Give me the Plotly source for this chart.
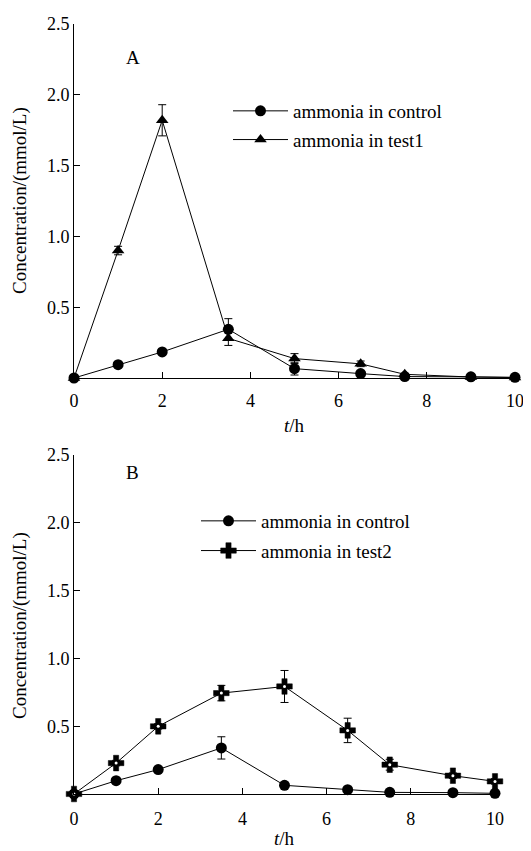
import plotly.graph_objects as go

# ---- data ----
t_hours = [0, 1, 2, 3.5, 5, 6.5, 7.5, 9, 10]

a_control = [0.0, 0.094, 0.184, 0.344, 0.066, 0.031, 0.010, 0.008, 0.005]
a_control_err = [0.0, 0.0, 0.0, 0.075, 0.045, 0.0, 0.0, 0.0, 0.0]
a_test1 = [0.0, 0.90, 1.82, 0.28, 0.137, 0.10, 0.026, 0.007, 0.003]
a_test1_err = [0.0, 0.03, 0.11, 0.05, 0.035, 0.02, 0.0, 0.0, 0.0]

b_control = [0.0, 0.098, 0.18, 0.34, 0.064, 0.032, 0.012, 0.010, 0.005]
b_control_err = [0.0, 0.0, 0.0, 0.082, 0.0, 0.0, 0.0, 0.0, 0.0]
b_test2 = [0.0, 0.228, 0.499, 0.744, 0.793, 0.469, 0.216, 0.135, 0.093]
b_test2_err = [0.0, 0.02, 0.02, 0.057, 0.118, 0.09, 0.04, 0.02, 0.02]

x_ticks = [0, 2, 4, 6, 8, 10]
y_ticks = [0.5, 1.0, 1.5, 2.0, 2.5]
y_ticklabels = ["0.5", "1.0", "1.5", "2.0", "2.5"]

FONT = "'Liberation Serif', 'Times New Roman', Times, serif"
OFF = 8  # default page body margin
W, H = 531 - OFF, 851 - OFF


def px_x(p):
    return (p - OFF) / W


def px_y(p):
    return 1 - (p - OFF) / H


fig = go.Figure()


def err(vals):
    return dict(type="data", array=vals, visible=True, color="black",
                thickness=1, width=4)


line = dict(color="black", width=1)

fig.add_trace(go.Scatter(x=t_hours, y=a_control, error_y=err(a_control_err),
                         mode="lines+markers", name="ammonia in control",
                         line=line, marker=dict(symbol="circle", size=11, color="black"),
                         cliponaxis=False, xaxis="x", yaxis="y", legend="legend",
                         legendgroup="a1"))
fig.add_trace(go.Scatter(x=t_hours, y=a_test1, error_y=err(a_test1_err),
                         mode="lines+markers", name="ammonia in test1",
                         line=line, marker=dict(symbol="triangle-up", size=11, color="black"),
                         cliponaxis=False, xaxis="x", yaxis="y", legend="legend",
                         legendgroup="a2"))

fig.add_trace(go.Scatter(x=t_hours, y=b_control, error_y=err(b_control_err),
                         mode="lines+markers", name="ammonia in control",
                         line=line, marker=dict(symbol="circle", size=11, color="black"),
                         cliponaxis=False, xaxis="x2", yaxis="y2", legend="legend2",
                         legendgroup="b1"))
fig.add_trace(go.Scatter(x=t_hours, y=b_test2, error_y=err(b_test2_err),
                         mode="lines+markers", name="ammonia in test2",
                         line=line, marker=dict(symbol="cross", size=13, color="black",
                                                line=dict(color="black", width=0.5)),
                         cliponaxis=False, xaxis="x2", yaxis="y2", legend="legend2",
                         legendgroup="b2"))
# white centre dot of the test2 markers
fig.add_trace(go.Scatter(x=t_hours, y=b_test2, mode="markers", showlegend=False,
                         marker=dict(symbol="circle", size=3, color="white"),
                         cliponaxis=False, xaxis="x2", yaxis="y2", hoverinfo="skip"))

xa_dom = [px_x(74), px_x(515)]
xb_dom = [px_x(74), px_x(495)]
ya_dom = [px_y(378), px_y(24)]
yb_dom = [px_y(794), px_y(455)]

tickfont = dict(family=FONT, size=18, color="black")


def xaxis(dom, anchor, standoff):
    return dict(domain=dom, anchor=anchor, range=[0, 10], tickvals=x_ticks,
                ticks="inside", ticklen=6, tickwidth=1, tickcolor="black",
                showline=True, linecolor="black", linewidth=1, showgrid=False,
                zeroline=False, tickfont=tickfont, ticklabelstandoff=standoff,
                automargin=False)


def yaxis(dom, anchor):
    return dict(domain=dom, anchor=anchor, range=[0, 2.5], tickvals=y_ticks,
                ticktext=y_ticklabels, ticks="inside", ticklen=6, tickwidth=1,
                tickcolor="black", showline=True, linecolor="black", linewidth=1,
                showgrid=False, zeroline=False, tickfont=tickfont, automargin=False)


legfont = dict(family=FONT, size=19, color="black")
annfont = dict(family=FONT, size=19, color="black")


def ann(text, x, y, xref="paper", yref="paper", angle=0):
    return dict(text=text, x=x, y=y, xref=xref, yref=yref, showarrow=False,
                xanchor="center", yanchor="middle", textangle=angle, font=annfont)


fig.update_layout(
    width=W, height=H,
    margin=dict(l=0, r=0, t=0, b=0, autoexpand=False),
    paper_bgcolor="white", plot_bgcolor="white",
    showlegend=True,
    xaxis=xaxis(xa_dom, "y", 6), yaxis=yaxis(ya_dom, "x"),
    xaxis2=xaxis(xb_dom, "y2", 8), yaxis2=yaxis(yb_dom, "x2"),
    legend=dict(x=px_x(228), y=px_y(92), xanchor="left", yanchor="top",
                font=legfont, bgcolor="rgba(0,0,0,0)", itemwidth=55,
                tracegroupgap=1, traceorder="grouped", itemclick=False),
    legend2=dict(x=px_x(196), y=px_y(502), xanchor="left", yanchor="top",
                 font=legfont, bgcolor="rgba(0,0,0,0)", itemwidth=55,
                 tracegroupgap=2, traceorder="grouped", itemclick=False),
    annotations=[
        ann("A", 1.34, 2.26, "x", "y"),
        ann("B", 1.4, 2.37, "x2", "y2"),
        ann("<i>t</i>/h", px_x((74 + 515) / 2), px_y(425)),
        ann("<i>t</i>/h", px_x((74 + 495) / 2), px_y(838)),
        ann("Concentration/(mmol/L)", px_x(20), px_y(201), angle=-90),
        ann("Concentration/(mmol/L)", px_x(20), px_y(626), angle=-90),
    ],
)

fig.write_html("out.html")
